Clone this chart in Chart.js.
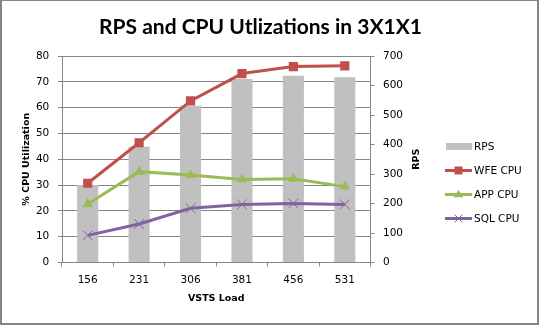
<!DOCTYPE html>
<html>
<head>
<meta charset="utf-8">
<script src="https://cdn.jsdelivr.net/npm/chart.js@4/dist/chart.umd.min.js"></script>
<style>
  html, body { margin: 0; padding: 0; background: #fff; }
  #wrap { position: relative; width: 539px; height: 325px; }
</style>
</head>
<body>
<div id="wrap"><canvas id="c" width="539" height="325"></canvas></div>
<script>
// VSTS load levels (x axis)
const loads = ['156', '231', '306', '381', '456', '531'];
// Requests per second (right axis)
const rps = [263, 392, 531, 622, 633, 628];
// CPU utilization per tier, percent (left axis)
const wfeCpu = [30.7, 46.4, 62.6, 73.2, 75.9, 76.2];
const appCpu = [22.7, 35.2, 33.9, 32.2, 32.4, 29.4];
const sqlCpu = [10.5, 14.9, 21.0, 22.5, 22.9, 22.5];

const RED = '#C0504D', GREEN = '#9BBB59', PURPLE = '#8064A2', BAR = '#C0C0C0';
const GRID = '#868686';
const TICK_FONT = { family: 'DejaVu Sans', size: 10.5 };
const AXIS_TITLE_FONT = { family: 'DejaVu Sans', size: 9.5, weight: 'bold' };

// Chart background and frame
const framePlugin = {
  id: 'frame',
  beforeDraw(chart) {
    const ctx = chart.ctx;
    ctx.save();
    ctx.fillStyle = '#fff';
    ctx.fillRect(0, 0, chart.width, chart.height);
    ctx.restore();
  },
  afterDraw(chart) {
    const ctx = chart.ctx, w = chart.width, h = chart.height;
    ctx.save();
    ctx.fillStyle = '#848484';
    ctx.fillRect(0, 0, w, 1);
    ctx.fillRect(0, 0, 2, h);
    ctx.fillRect(w - 2, 0, 2, h);
    ctx.fillRect(0, h - 2, w, 2);
    ctx.restore();
  }
};

// Secondary axis title, read bottom to top
const rightTitlePlugin = {
  id: 'rightTitle',
  afterDraw(chart) {
    const ctx = chart.ctx, a = chart.chartArea;
    ctx.save();
    ctx.translate(416.5, (a.top + a.bottom) / 2);
    ctx.rotate(-Math.PI / 2);
    ctx.font = 'bold 9.5px "DejaVu Sans"';
    ctx.fillStyle = '#000';
    ctx.textAlign = 'center';
    ctx.textBaseline = 'middle';
    ctx.fillText('RPS', 0, 0);
    ctx.restore();
  }
};

// Legend with line-and-marker samples
function marker(ctx, style, x, y, r, color) {
  ctx.save();
  ctx.fillStyle = color;
  ctx.strokeStyle = color;
  ctx.beginPath();
  if (style === 'rect') {
    ctx.fillRect(x - r, y - r, 2 * r, 2 * r);
  } else if (style === 'triangle') {
    ctx.moveTo(x, y - r);
    ctx.lineTo(x + r * 1.1, y + r * 0.6);
    ctx.lineTo(x - r * 1.1, y + r * 0.6);
    ctx.closePath();
    ctx.fill();
  } else if (style === 'crossRot') {
    ctx.lineWidth = 1;
    ctx.moveTo(x - r, y - r); ctx.lineTo(x + r, y + r);
    ctx.moveTo(x + r, y - r); ctx.lineTo(x - r, y + r);
    ctx.stroke();
  }
  ctx.restore();
}
const legendPlugin = {
  id: 'sideLegend',
  afterDraw(chart) {
    const ctx = chart.ctx;
    const x0 = 445, x1 = 472, tx = 474;
    const rows = chart.data.datasets.map((ds, i) => ({ ds, y: 146.5 + i * 24 }));
    ctx.save();
    ctx.font = '10.5px "DejaVu Sans"';
    ctx.textBaseline = 'middle';
    ctx.textAlign = 'left';
    rows.forEach(({ ds, y }) => {
      if (ds.type === 'bar') {
        ctx.fillStyle = ds.backgroundColor;
        ctx.fillRect(x0 + 1, y - 3.5, x1 - x0 - 1, 7);
      } else {
        ctx.strokeStyle = ds.borderColor;
        ctx.lineWidth = 3;
        ctx.beginPath();
        ctx.moveTo(x0, y); ctx.lineTo(x1, y);
        ctx.stroke();
        const cx = (x0 + x1) / 2;
        if (ds.pointStyle === 'rect') marker(ctx, 'rect', cx, y, 4, ds.borderColor);
        else if (ds.pointStyle === 'triangle') marker(ctx, 'triangle', cx, y, 4.5, ds.borderColor);
        else marker(ctx, 'crossRot', cx, y, 4, ds.borderColor);
      }
      ctx.fillStyle = '#000';
      ctx.fillText(ds.label, tx, y + 0.5);
    });
    ctx.restore();
  }
};

new Chart(document.getElementById('c'), {
  data: {
    labels: loads,
    datasets: [
      { type: 'bar', label: 'RPS', data: rps, yAxisID: 'y1', backgroundColor: BAR,
        barPercentage: 0.41, categoryPercentage: 1.0, order: 4 },
      { type: 'line', label: 'WFE CPU', data: wfeCpu, yAxisID: 'y', borderColor: RED,
        backgroundColor: RED, borderWidth: 3, pointStyle: 'rect', pointRadius: 6.5,
        pointBackgroundColor: RED, pointBorderColor: RED, pointBorderWidth: 0, order: 1 },
      { type: 'line', label: 'APP CPU', data: appCpu, yAxisID: 'y', borderColor: GREEN,
        backgroundColor: GREEN, borderWidth: 3, pointStyle: 'triangle', pointRadius: 6,
        pointBackgroundColor: GREEN, pointBorderColor: GREEN, pointBorderWidth: 0, order: 2 },
      { type: 'line', label: 'SQL CPU', data: sqlCpu, yAxisID: 'y', borderColor: PURPLE,
        backgroundColor: PURPLE, borderWidth: 3, pointStyle: 'crossRot', pointRadius: 7,
        pointBorderColor: PURPLE, pointBorderWidth: 1, order: 3 }
    ]
  },
  options: {
    responsive: false,
    animation: false,
    devicePixelRatio: 1,
    layout: { padding: { left: 0, right: 18, top: 0, bottom: 0 } },
    plugins: {
      legend: { display: false },
      tooltip: { enabled: false },
      title: {
        display: true,
        text: 'RPS and CPU Utlizations in 3X1X1',
        color: '#000',
        font: { family: 'Lato', size: 21, weight: 'bold', lineHeight: 1.2 },
        padding: { top: 14.5, bottom: 16.3 }
      }
    },
    scales: {
      x: {
        type: 'category',
        offset: true,
        grid: { offset: true, drawOnChartArea: false, drawTicks: true, tickLength: 4, color: GRID },
        border: { color: GRID, width: 1 },
        ticks: { color: '#000', font: TICK_FONT, padding: 7, maxRotation: 0 },
        title: { display: true, text: 'VSTS Load', color: '#000', font: AXIS_TITLE_FONT,
                 padding: { top: 0, bottom: 20.3 } },
        afterFit(s) { s.height = 62.5; }
      },
      y: {
        position: 'left',
        min: 0, max: 80,
        ticks: { stepSize: 10, color: '#000', font: TICK_FONT, padding: 8.7 },
        grid: { color: GRID, tickLength: 4 },
        border: { color: GRID, width: 1 },
        title: { display: true, text: '% CPU Utilization', color: '#000', font: AXIS_TITLE_FONT,
                 padding: { top: 20.8, bottom: 0 } },
        afterFit(s) { s.width = 62; }
      },
      y1: {
        position: 'right',
        min: 0, max: 700,
        ticks: { stepSize: 100, color: '#000', font: TICK_FONT, padding: 8.5 },
        grid: { drawOnChartArea: false, color: GRID, tickLength: 4 },
        border: { color: GRID, width: 1 },
        afterFit(s) { s.width = 539 - 18 - 370.5; }
      }
    }
  },
  plugins: [framePlugin, rightTitlePlugin, legendPlugin]
});
</script>
</body>
</html>
